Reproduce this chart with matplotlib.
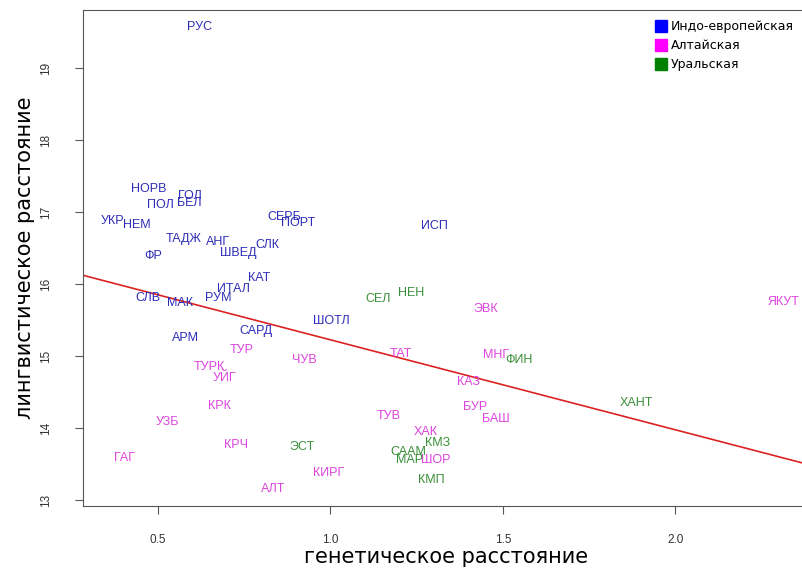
import matplotlib
matplotlib.use("Agg")
import matplotlib.pyplot as plt
from matplotlib.lines import Line2D

# indo-european
ie_names = ["РУС", "НОРВ", "ГОЛ", "БЕЛ", "ПОЛ", "УКР", "НЕМ", "СЕРБ", "ПОРТ", "ТАДЖ",
            "АНГ", "СЛК", "ШВЕД", "ФР", "КАТ", "ИТАЛ", "РУМ", "СЛВ", "МАК", "АРМ",
            "САРД", "ШОТЛ", "ИСП"]
ie_x = [0.620, 0.472, 0.591, 0.591, 0.506, 0.368, 0.438, 0.865, 0.907, 0.575,
        0.673, 0.818, 0.733, 0.486, 0.793, 0.718, 0.675, 0.470, 0.564, 0.580,
        0.783, 1.001, 1.301]
ie_y = [19.565, 17.315, 17.222, 17.12, 17.10, 16.88, 16.82, 16.935, 16.85, 16.62,
        16.59, 16.54, 16.43, 16.39, 16.09, 15.93, 15.81, 15.80, 15.73, 15.245,
        15.35, 15.49, 16.81]

# altaic
alt_names = ["ТУР", "ЧУВ", "ТУРК", "УЙГ", "КРК", "УЗБ", "КРЧ", "ГАГ", "КИРГ", "АЛТ",
             "ЭВК", "ТАТ", "МНГ", "КАЗ", "ТУВ", "БУР", "БАШ", "ХАК", "ШОР", "ЯКУТ"]
alt_x = [0.743, 0.924, 0.649, 0.694, 0.678, 0.527, 0.725, 0.402, 0.994, 0.834,
         1.451, 1.203, 1.480, 1.401, 1.170, 1.419, 1.480, 1.276, 1.306, 2.313]
alt_y = [15.09, 14.95, 14.85, 14.69, 14.30, 14.09, 13.77, 13.59, 13.38, 13.16,
         15.65, 15.03, 15.01, 14.64, 14.17, 14.29, 14.125, 13.95, 13.55, 15.75]

# uralic
ur_names = ["ЭСТ", "СЕЛ", "НЕН", "ФИН", "КМЗ", "СААМ", "МАР", "КМП", "ХАНТ"]
ur_x = [0.918, 1.137, 1.233, 1.547, 1.310, 1.226, 1.230, 1.293, 1.887]
ur_y = [13.74, 15.79, 15.87, 14.95, 13.79, 13.67, 13.55, 13.28, 14.35]

fit_intercept = 16.475
fit_slope = -1.25

groups = ["Индо-европейская", "Алтайская", "Уральская"]
text_colors = ["#2e2eb8", "#dd44dd", "#3a8f3a"]
key_colors = ["#0000ff", "#ff00ff", "#008000"]

fig = plt.figure(figsize=(8.03, 5.70), dpi=100)
ax = fig.add_axes([83 / 803, 64 / 570, 727 / 803, 496 / 570])
ax.set_xlim(0.2826, 2.39)
ax.set_ylim(12.917, 19.806)

for names, xs, ys, col in [(ie_names, ie_x, ie_y, text_colors[0]),
                           (alt_names, alt_x, alt_y, text_colors[1]),
                           (ur_names, ur_x, ur_y, text_colors[2])]:
    for n, x, y in zip(names, xs, ys):
        ax.text(x, y, n, color=col, ha="center", va="center",
                fontsize=9, family="Liberation Sans")

ax.axline((0, fit_intercept), slope=fit_slope, color="#dd2222", lw=1.2)

for s in ax.spines.values():
    s.set_color("#555555")
ax.set_xticks([0.5, 1.0, 1.5, 2.0])
ax.set_xticklabels(["0.5", "1.0", "1.5", "2.0"])
ax.set_yticks([13, 14, 15, 16, 17, 18, 19])
ax.tick_params(axis="both", direction="out", length=6, color="#555555",
               labelsize=8.5, labelcolor="#333333")
ax.tick_params(axis="x", pad=14)
ax.tick_params(axis="y", pad=16)
for lab in ax.get_yticklabels():
    lab.set_rotation(90)
    lab.set_va("center")
for lab in ax.get_xticklabels() + ax.get_yticklabels():
    lab.set_family("Liberation Sans")

ax.set_xlabel("генетическое расстояние", fontsize=15, labelpad=1)
ax.set_ylabel("лингвистическое расстояние", fontsize=15, labelpad=4)

handles = [Line2D([], [], marker="s", linestyle="none", markersize=8,
                  markerfacecolor=c, markeredgecolor=c) for c in key_colors]
ax.legend(handles, groups, loc="upper right", frameon=False, fontsize=9,
          bbox_to_anchor=(800 / 803, 1 - 14 / 570), bbox_transform=fig.transFigure,
          handlelength=0.8, handletextpad=0.35, labelspacing=0.48, borderpad=0)

fig.savefig("out.png", dpi=100)
